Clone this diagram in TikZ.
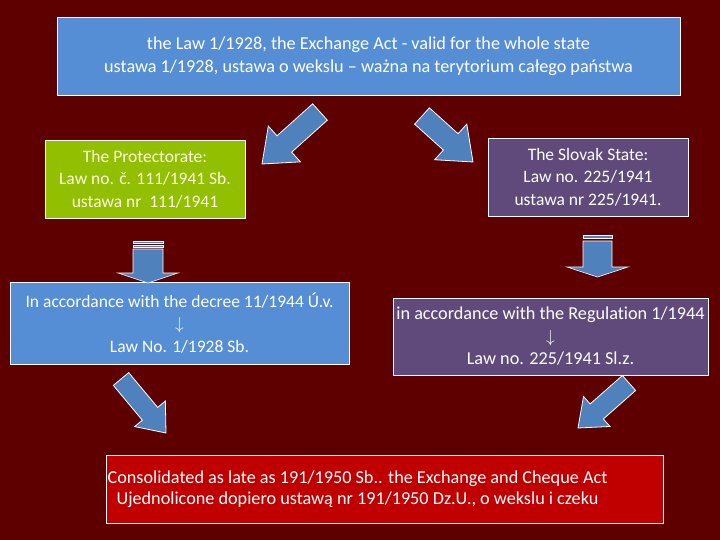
\documentclass[tikz,border=0pt]{standalone}
\usepackage{fontspec}
\setmainfont[Ligatures=NoCommon]{Carlito}
\usetikzlibrary{calc}
\definecolor{bg}{HTML}{5E0000}
\definecolor{lblue}{HTML}{558ED5}
\definecolor{lgreen}{HTML}{92C000}
\definecolor{purp}{HTML}{604A7B}
\definecolor{bred}{HTML}{C00000}
\definecolor{arr}{HTML}{4F81BD}
\newcommand{\blockarr}[5]{% tail, tip, half shaft, half head, head length
  \coordinate (bb) at ($(#2)!#5!(#1)$);
  \fill[arr,draw=white,line width=0.8pt]
    ($(#1)!#3!90:(#2)$) -- ($(bb)!#3!90:(#2)$)
    -- ($(bb)!#4!90:(#2)$) -- (#2)
    -- ($(bb)!#4!-90:(#2)$) -- ($(bb)!#3!-90:(#2)$)
    -- ($(#1)!#3!-90:(#2)$) -- cycle;}
\tikzset{
  box/.style={draw=white,line width=0.6pt,text=white,align=center,inner sep=0pt,font=\fontsize{17.5}{22.5}\selectfont},
  bigtxt/.style={font=\fontsize{18.2}{22.5}\selectfont},
}
\begin{document}
\begin{tikzpicture}[x=1pt,y=-1pt]
\fill[bg] (0,0) rectangle (720,540);
\useasboundingbox (0,0) rectangle (720,540);
% boxes
\node[box,bigtxt,fill=lblue,minimum width=623,minimum height=78] (top) at (368.5,56) {the Law 1/1928, the Exchange Act - valid for the whole state\\ustawa 1/1928, ustawa o wekslu -- ważna na terytorium całego państwa};
\node[box,fill=lgreen,minimum width=200,minimum height=78,text=white!90!yellow] (prot) at (145,179) {The Protectorate:\\Law no. č. 111/1941 Sb.\\ustawa nr \ 111/1941};
\node[box,fill=purp,minimum width=200,minimum height=78] (slov) at (588,177) {The Slovak State:\\Law no. 225/1941\\ustawa nr 225/1941.};
\node[box,fill=lblue,minimum width=339,minimum height=82] (dec) at (179.5,323) {In accordance with the decree 11/1944 Ú.v.\\$\downarrow$\\Law No. 1/1928 Sb.};
\node[box,bigtxt,fill=purp,minimum width=315,minimum height=77] (reg) at (550.5,336.5) {in accordance with the Regulation 1/1944\\$\downarrow$\\Law no. 225/1941 Sl.z.};
\node[box,bigtxt,fill=bred,minimum width=557,minimum height=68] (cons) at (384.5,489) {\hspace*{-54pt}\begin{tabular}{@{}c@{}}Consolidated as late as 191/1950 Sb.. the Exchange and Cheque Act\\[-1.5pt]Ujednolicone dopiero ustawą nr 191/1950 Dz.U., o wekslu i czeku\end{tabular}};
% arrow coordinates
\coordinate (a1t) at (320,112); \coordinate (a1h) at (262,164);
\coordinate (a2t) at (422,116); \coordinate (a2h) at (473,162);
\coordinate (a3t) at (121,379); \coordinate (a3h) at (166,433);
\coordinate (a4t) at (629,383); \coordinate (a4h) at (578,428);
\blockarr{a1t}{a1h}{11pt}{24pt}{30pt}
\blockarr{a2t}{a2h}{11pt}{24pt}{30pt}
\blockarr{a3t}{a3h}{10pt}{20pt}{25pt}
\blockarr{a4t}{a4h}{10pt}{20pt}{25pt}
% down arrows with stripes
\begin{scope}[arr,draw=white,line width=0.6pt]
\filldraw (133,249) -- (163,249) -- (163,273) -- (178,273) -- (148,283) -- (118,273) -- (133,273) -- cycle;
\filldraw (133,241) rectangle (163,243.5);
\filldraw (133,245) rectangle (163,247.5);
\filldraw (583,241) -- (612,241) -- (612,267) -- (628,267) -- (597.5,277) -- (567,267) -- (583,267) -- cycle;
\filldraw (583,235) rectangle (612,238.5);
\end{scope}
\end{tikzpicture}
\end{document}
